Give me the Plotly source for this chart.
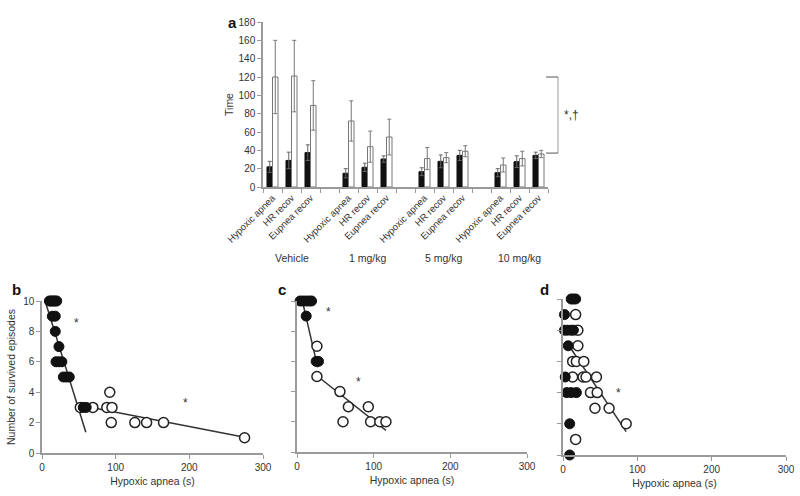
import plotly.graph_objects as go

# ---------------- Panel a data ----------------
groups = ["Vehicle", "1 mg/kg", "5 mg/kg", "10 mg/kg"]
measures = ["Hypoxic apnea", "HR recov", "Eupnea recov"]
black_vals = [22, 29, 37.5, 15, 21.5, 30.5, 16.7, 28, 34.5, 15.6, 27.6, 34.5]
black_err = [6, 9, 8.5, 5, 4.5, 3.5, 4.3, 7, 5.5, 4.4, 6.4, 3.5]
white_vals = [120, 121, 89, 72, 44, 54.5, 31, 32, 39, 24, 31, 36]
white_err = [40, 39, 27, 22, 17, 19.5, 12, 5.5, 6, 7.6, 8, 4]
a_yticks = [0, 20, 40, 60, 80, 100, 120, 140, 160, 180]
bracket_vals = [120, 37]

# ---------------- Panel b data ----------------
b_filled_x = [10, 12, 14, 16, 18, 20, 14, 18, 18, 23, 19, 23, 27, 29, 33, 37, 56, 60]
b_filled_y = [10, 10, 10, 10, 10, 10, 9, 9, 8, 7, 6, 6, 6, 5, 5, 5, 3, 3]
b_open_x = [52, 69, 88, 95, 92, 94, 126, 142, 165, 275]
b_open_y = [3, 3, 3, 3, 4, 2, 2, 2, 2, 1]
b_line1_x = [3.6, 59.5]
b_line1_y = [10.1, 1.36]
b_line2_x = [49.6, 275]
b_line2_y = [3.16, 1.03]
b_star = [(47, 8.57), (195, 3.27)]

# ---------------- Panel c data ----------------
c_filled_x = [4, 8, 12, 16, 19, 12, 25, 28]
c_filled_y = [10, 10, 10, 10, 10, 9, 6, 6]
c_open_x = [26, 26, 56, 67, 93, 60, 96, 108, 116]
c_open_y = [7, 5, 4, 3, 3, 2, 2, 2, 2]
c_line1_x = [7, 27]
c_line1_y = [10, 5.6]
c_line2_x = [26, 116]
c_line2_y = [5.05, 1.43]
c_star = [(41, 9.27), (80, 4.66)]

# ---------------- Panel d data ----------------
d_filled_x = [11, 14, 17, 2, 2, 6, 11, 14, 7, 3, 5, 11, 18, 9, 9]
d_filled_y = [10, 10, 10, 9, 8, 8, 8, 8, 7, 5, 4, 4, 4, 2, 0]
d_open_x = [17, 20, 20, 13, 18, 28, 13, 27, 31, 45, 37, 46, 43, 62, 85, 17]
d_open_y = [9, 8, 7, 6, 6, 6, 5, 5, 5, 5, 4, 4, 3, 3, 2, 1]
d_line_x = [9, 85]
d_line_y = [6.94, 1.5]
d_star = [(74, 4.0)]

scatter_ticks_x = [0, 100, 200, 300]
scatter_ticks_y = [0, 2, 4, 6, 8, 10]

FONT = "Arial, Liberation Sans, sans-serif"
TXT = "#333333"
AX = "#9a9a9a"

fig = go.Figure()

# ---- Panel a bars ----
pos = [g * 4 + m for g in range(len(groups)) for m in range(len(measures))]
fig.add_trace(go.Bar(
    x=pos, y=black_vals, marker=dict(color="#111111", line=dict(color="#111111", width=1)),
    error_y=dict(type="data", array=black_err, color="#666666", thickness=1, width=2),
    xaxis="x", yaxis="y", offsetgroup="1", showlegend=False))
fig.add_trace(go.Bar(
    x=pos, y=white_vals, marker=dict(color="white", line=dict(color="#777777", width=1)),
    error_y=dict(type="data", array=white_err, color="#777777", thickness=1, width=2),
    xaxis="x", yaxis="y", offsetgroup="2", showlegend=False))

tickvals_a = pos
ticktext_a = [measures[m] for g in range(len(groups)) for m in range(len(measures))]

# ---- scatter panels ----
def add_panel(xa, ya, fx, fy, ox, oy, lines):
    for lx, ly in lines:
        fig.add_trace(go.Scatter(x=lx, y=ly, mode="lines", line=dict(color="#333333", width=1.5),
                                 xaxis=xa, yaxis=ya, showlegend=False, cliponaxis=False))
    fig.add_trace(go.Scatter(x=ox, y=oy, mode="markers",
                             marker=dict(size=10, color="white", line=dict(color="#222222", width=1.5)),
                             xaxis=xa, yaxis=ya, showlegend=False, cliponaxis=False))
    fig.add_trace(go.Scatter(x=fx, y=fy, mode="markers",
                             marker=dict(size=10, color="#111111", line=dict(color="#111111", width=1)),
                             xaxis=xa, yaxis=ya, showlegend=False, cliponaxis=False))

add_panel("x2", "y2", b_filled_x, b_filled_y, b_open_x, b_open_y,
          [(b_line1_x, b_line1_y), (b_line2_x, b_line2_y)])
add_panel("x3", "y3", c_filled_x, c_filled_y, c_open_x, c_open_y,
          [(c_line1_x, c_line1_y), (c_line2_x, c_line2_y)])
add_panel("x4", "y4", d_filled_x, d_filled_y, d_open_x, d_open_y,
          [(d_line_x, d_line_y)])

def px2paper_x(px):
    return px / 800.0

def py2paper(py):
    return 1 - py / 496.0

common_ax = dict(showgrid=False, zeroline=False, showline=True, linecolor=AX, linewidth=1.5,
                 ticks="outside", tickcolor=AX, ticklen=4, automargin=False,
                 tickfont=dict(family=FONT, size=10, color=TXT))

layout = dict(
    width=800, height=496, margin=dict(l=0, r=0, t=0, b=0),
    paper_bgcolor="white", plot_bgcolor="white",
    barmode="group", bargap=0.42, bargroupgap=0,
    font=dict(family=FONT, color=TXT),
    xaxis=dict(domain=[px2paper_x(263), px2paper_x(548)], range=[-0.5, 14.5],
               anchor="y", showgrid=False, zeroline=False, showline=True, linecolor=AX, linewidth=1.5,
               automargin=False,
               tickmode="array", tickvals=tickvals_a, ticktext=ticktext_a, ticks="",
               tickangle=-45, tickfont=dict(family=FONT, size=9.5, color=TXT),
               minor=dict(tick0=0.5, dtick=1, ticks="outside", ticklen=4, tickcolor=AX)),
    yaxis=dict(domain=[py2paper(187), py2paper(22)], range=[0, 180], anchor="x",
               tickvals=a_yticks, title=dict(text="Time", font=dict(family=FONT, size=10.5, color=TXT), standoff=3),
               **common_ax),
    xaxis2=dict(domain=[px2paper_x(42), px2paper_x(263)], range=[0, 300], anchor="y2",
                tickvals=scatter_ticks_x,
                title=dict(text="Hypoxic apnea (s)", font=dict(family=FONT, size=10.5, color=TXT), standoff=6),
                **common_ax),
    yaxis2=dict(domain=[py2paper(453), py2paper(301)], range=[0, 10], anchor="x2",
                tickvals=scatter_ticks_y,
                title=dict(text="Number of survived episodes", font=dict(family=FONT, size=10.5, color=TXT), standoff=5),
                **common_ax),
    xaxis3=dict(domain=[px2paper_x(297), px2paper_x(527)], range=[0, 300], anchor="y3",
                tickvals=scatter_ticks_x,
                title=dict(text="Hypoxic apnea (s)", font=dict(family=FONT, size=10.5, color=TXT), standoff=6),
                **common_ax),
    yaxis3=dict(domain=[py2paper(452), py2paper(301)], range=[0, 10], anchor="x3",
                tickvals=scatter_ticks_y, showticklabels=False, **common_ax),
    xaxis4=dict(domain=[px2paper_x(563), px2paper_x(786)], range=[0, 300], anchor="y4",
                tickvals=scatter_ticks_x,
                title=dict(text="Hypoxic apnea (s)", font=dict(family=FONT, size=10.5, color=TXT), standoff=6),
                **common_ax),
    yaxis4=dict(domain=[py2paper(455), py2paper(299)], range=[0, 10], anchor="x4",
                tickvals=scatter_ticks_y, showticklabels=False, **common_ax),
)
fig.update_layout(**layout)

# ---- annotations ----
ann = []
for g, name in enumerate(groups):
    ann.append(dict(x=g * 4 + 1, y=py2paper(258), xref="x", yref="paper", text=name,
                    showarrow=False, font=dict(family=FONT, size=10.5, color=TXT)))
for lab, x, y in [("a", 226, 12), ("b", 10, 289), ("c", 282, 289), ("d", 551, 289)]:
    ann.append(dict(x=px2paper_x(x), y=py2paper(y), xref="paper", yref="paper", text="<b>%s</b>" % lab,
                    showarrow=False, font=dict(family=FONT, size=15, color="#111111")))
for xa, ya, stars in [("x2", "y2", b_star), ("x3", "y3", c_star), ("x4", "y4", d_star)]:
    for sx, sy in stars:
        ann.append(dict(x=sx, y=sy, xref=xa, yref=ya, text="*", showarrow=False,
                        font=dict(family=FONT, size=12, color=TXT)))
# bracket
ann.append(dict(x=px2paper_x(562), y=(bracket_vals[0] + bracket_vals[1]) / 2, xref="paper", yref="y",
                text="*,†", showarrow=False, xanchor="left", font=dict(family=FONT, size=12, color=TXT)))
fig.update_layout(annotations=ann)

shapes = [
    dict(type="line", xref="paper", yref="y", x0=px2paper_x(558), x1=px2paper_x(558),
         y0=bracket_vals[1], y1=bracket_vals[0], line=dict(color=AX, width=1)),
    dict(type="line", xref="paper", yref="y", x0=px2paper_x(546), x1=px2paper_x(558),
         y0=bracket_vals[0], y1=bracket_vals[0], line=dict(color="#555555", width=1)),
    dict(type="line", xref="paper", yref="y", x0=px2paper_x(546), x1=px2paper_x(558),
         y0=bracket_vals[1], y1=bracket_vals[1], line=dict(color="#555555", width=1)),
]
fig.update_layout(shapes=shapes)

fig.write_html("out.html", config={"displayModeBar": False},
               post_script="document.body.style.margin='0';document.body.style.overflow='hidden';")
